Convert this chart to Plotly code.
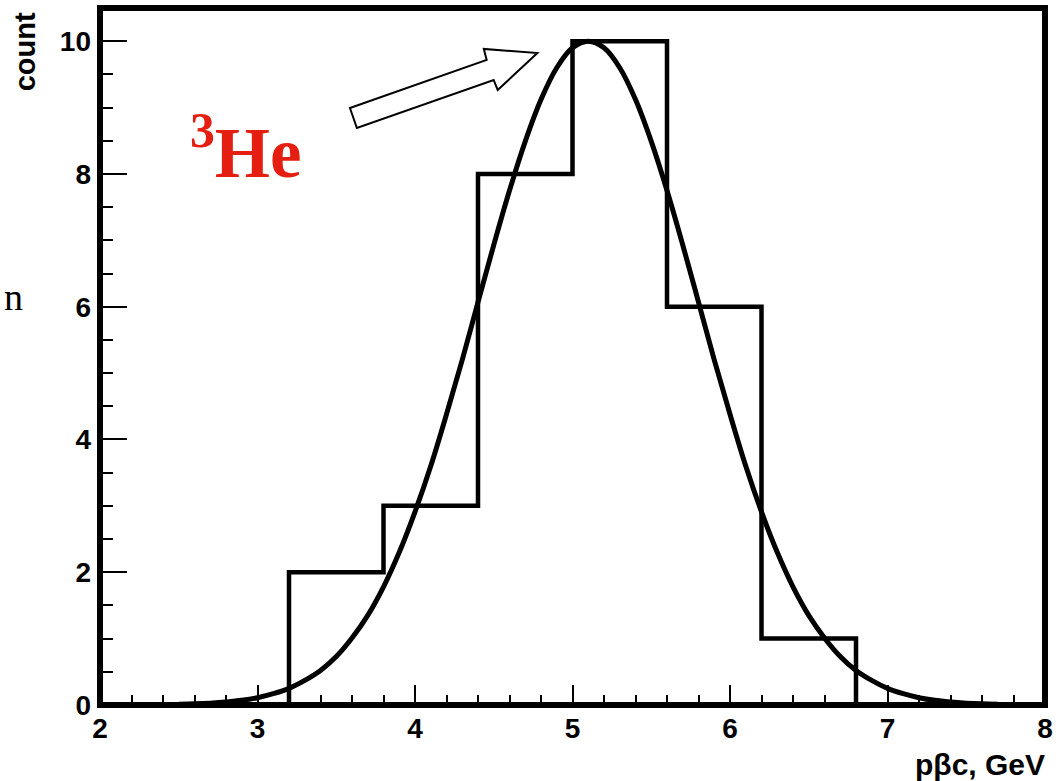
import plotly.graph_objects as go

# Histogram (bin edges and counts)
bin_edges = [2.0, 2.6, 3.2, 3.8, 4.4, 5.0, 5.6, 6.2, 6.8, 7.4, 8.0]
counts = [0, 0, 2, 3, 8, 10, 6, 1, 0, 0]

# Gaussian fit curve
fit_x = [2.5, 2.6, 2.7, 2.8, 2.9, 3.0, 3.1, 3.2, 3.3, 3.4, 3.5, 3.6, 3.7, 3.8, 3.9,
         4.0, 4.1, 4.2, 4.3, 4.4, 4.5, 4.6, 4.7, 4.8, 4.9, 5.0, 5.1, 5.2, 5.3, 5.4,
         5.5, 5.6, 5.7, 5.8, 5.9, 6.0, 6.1, 6.2, 6.3, 6.4, 6.5, 6.6, 6.7, 6.8, 6.9,
         7.0, 7.1, 7.2, 7.3, 7.4, 7.5, 7.6, 7.7]
fit_y = [0.01, 0.017, 0.028, 0.045, 0.07, 0.11, 0.17, 0.25, 0.37, 0.52, 0.73, 1.01, 1.35, 1.78, 2.30,
         2.91, 3.60, 4.38, 5.20, 6.07, 6.93, 7.75, 8.49, 9.12, 9.60, 9.90, 10.0, 9.90, 9.60, 9.12,
         8.49, 7.75, 6.93, 6.07, 5.20, 4.38, 3.60, 2.91, 2.30, 1.78, 1.35, 1.01, 0.73, 0.52, 0.37,
         0.25, 0.17, 0.11, 0.07, 0.045, 0.028, 0.017, 0.01]

x_ticks = [2, 3, 4, 5, 6, 7, 8]
y_ticks = [0, 2, 4, 6, 8, 10]

step_x = bin_edges
step_y = counts + [counts[-1]]

fig = go.Figure()
fig.add_trace(go.Scatter(x=fit_x, y=fit_y, mode="lines", line=dict(color="black", width=5, shape="spline"),
                         hoverinfo="skip", showlegend=False))
fig.add_trace(go.Scatter(x=step_x, y=step_y, mode="lines", line=dict(color="black", width=4.5, shape="hv"),
                         hoverinfo="skip", showlegend=False))

tickfont = dict(family="Liberation Sans", size=28, color="black", weight="bold")

fig.update_layout(
    width=1061, height=781,
    margin=dict(l=100, r=8, t=8, b=76),
    paper_bgcolor="white", plot_bgcolor="white",
    showlegend=False,
    xaxis=dict(range=[2, 8], tickvals=x_ticks, ticktext=[str(v) for v in x_ticks],
               ticks="inside", ticklen=20, tickwidth=2, tickcolor="black",
               minor=dict(dtick=0.2, tick0=2, ticks="inside", ticklen=10, tickwidth=2, tickcolor="black"),
               showgrid=False, zeroline=False, showline=False, tickfont=tickfont,
               ticklabelstandoff=4),
    yaxis=dict(range=[0, 10.5], tickvals=y_ticks, ticktext=[str(v) for v in y_ticks],
               ticks="inside", ticklen=27, tickwidth=2, tickcolor="black",
               minor=dict(dtick=0.5, tick0=0, ticks="inside", ticklen=13, tickwidth=2, tickcolor="black"),
               showgrid=False, zeroline=False, showline=False, tickfont=tickfont,
               ticklabelstandoff=8),
    shapes=[
        dict(type="rect", xref="paper", yref="paper", x0=0, y0=0, x1=1, y1=1,
             line=dict(color="black", width=6), fillcolor="rgba(0,0,0,0)", layer="above"),
        dict(type="path", xref="x", yref="y",
             path="M 3.587 8.994 L 4.455 9.717 L 4.437 9.883 L 4.777 9.822 L 4.525 9.265 L 4.4995 9.416 L 3.631 8.692 Z",
             line=dict(color="black", width=2), fillcolor="white", layer="above"),
    ],
    annotations=[
        dict(text="count", textangle=-90, xref="paper", yref="paper", x=-0.079, y=0.937,
             xanchor="center", yanchor="middle", showarrow=False,
             font=dict(family="Liberation Sans", size=29, color="black", weight="bold")),
        dict(text="pβc, GeV", xref="paper", yref="paper", x=1.002, y=-0.086,
             xanchor="right", yanchor="middle", showarrow=False,
             font=dict(family="Liberation Sans", size=30, color="black", weight="bold")),
        dict(text="<sup>3</sup>He", xref="paper", yref="paper", x=0.154, y=0.80,
             xanchor="center", yanchor="middle", showarrow=False,
             font=dict(family="Liberation Serif", size=71, color="#e41e10", weight="bold")),
        dict(text="n", xref="paper", yref="paper", x=-0.104, y=0.585,
             xanchor="left", yanchor="middle", showarrow=False,
             font=dict(family="Liberation Serif", size=38, color="black")),
    ],
)

fig.write_html("out.html")
